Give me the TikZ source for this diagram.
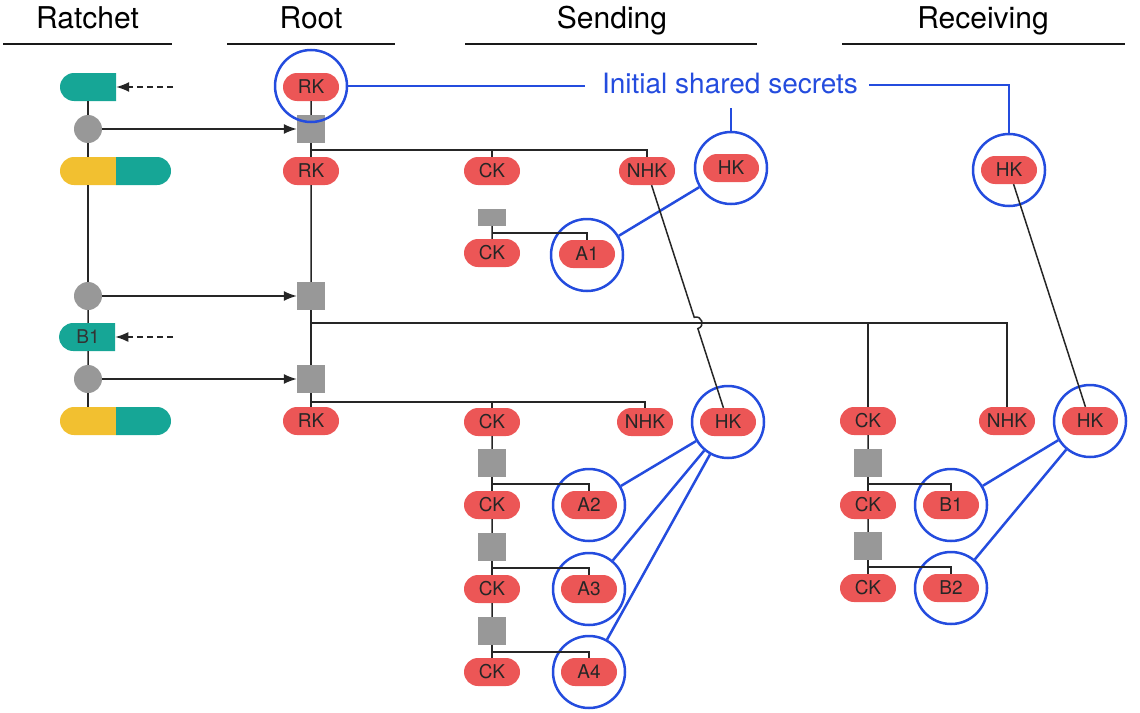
\documentclass[tikz,border=0pt]{standalone}
\usepackage{fontspec}
\setmainfont{TeX Gyre Heros}
\usetikzlibrary{shapes.misc,arrows.meta,calc}
\definecolor{pillred}{RGB}{236,86,86}
\definecolor{tealc}{RGB}{22,166,150}
\definecolor{yellowc}{RGB}{242,192,48}
\definecolor{kgray}{RGB}{152,152,152}
\definecolor{ringblue}{RGB}{36,76,222}
\begin{document}
\begin{tikzpicture}[x=1pt,y=-1pt,
  pill/.style={rounded rectangle, fill=pillred, minimum width=56pt, minimum height=28pt, inner sep=0pt, font=\fontsize{19}{20}\selectfont, text=black!85},
  tealhalf/.style={rounded rectangle, rounded rectangle right arc=none, fill=tealc, minimum width=56pt, minimum height=28pt, inner sep=0pt, font=\fontsize{19}{20}\selectfont, text=black!80},
  yelhalf/.style={rounded rectangle, rounded rectangle right arc=none, fill=yellowc, minimum width=56pt, minimum height=28pt, inner sep=0pt},
  tealright/.style={rounded rectangle, rounded rectangle left arc=none, fill=tealc, minimum width=55pt, minimum height=28pt, inner sep=0pt},
  ring/.style={circle, draw=ringblue, line width=2.5pt, minimum size=72pt, inner sep=0pt},
  bline/.style={draw=ringblue, line width=2.5pt},
  kline/.style={draw=black!85, line width=1.5pt},
  dotc/.style={circle, fill=kgray, minimum size=28pt, inner sep=0pt},
  sqbox/.style={rectangle, fill=kgray, minimum width=28pt, minimum height=28pt, inner sep=0pt},
  arr/.style={kline, -{Latex[length=13pt,width=10pt]}},
  head/.style={anchor=base, font=\fontsize{30}{32}\selectfont, text=black},
  hline/.style={line width=2.5pt, draw=black!90}
]
\useasboundingbox (0,0) rectangle (1140,712);

% headers
\node[head] (hRatchet) at (87.5,28) {Ratchet};
\node[head] (hRoot) at (311,28) {Root};
\node[head] (hSending) at (612,28) {Sending};
\node[head] (hReceiving) at (983,28) {Receiving};
\draw[hline] (3,44) -- (172,44);
\draw[hline] (227,44) -- (395,44);
\draw[hline] (465,44) -- (757,44);
\draw[hline] (842,44) -- (1125,44);

% ratchet column
\node[tealhalf] (t1) at (88,87) {};
\node[dotc] (d1) at (88,129) {};
\node[yelhalf] (y1) at (88,171) {};
\node[tealright] (tr1) at (143.5,171) {};
\node[dotc] (d2) at (88,296) {};
\node[tealhalf] (b1) at (88,337) {B1};
\node[dotc] (d3) at (88,379) {};
\node[yelhalf] (y2) at (88,421) {};
\node[tealright] (tr2) at (143.5,421) {};
\coordinate (da1) at (173,87);
\coordinate (da2) at (173,337);

% root column
\node[pill] (rk1) at (311,87) {RK};
\node[sqbox] (s1) at (311,129) {};
\node[pill] (rk2) at (311,171) {RK};
\node[sqbox] (s2) at (311,296) {};
\node[sqbox] (s3) at (311,379) {};
\node[pill] (rk3) at (311,421) {RK};

% sending top
\node[pill] (ck1) at (492,171) {CK};
\node[pill] (nhk1) at (647,171) {NHK};
\node[pill] (hk1) at (731,168) {HK};
\node[rectangle, fill=kgray, minimum width=28pt, minimum height=17pt, inner sep=0pt] (sm) at (492,217.5) {};
\node[pill] (ck2) at (492,253) {CK};
\node[pill] (a1) at (587,254) {A1};

% receiving top
\node[pill] (hkr1) at (1009,170) {HK};

% sending lower
\node[pill] (ck3) at (492,422) {CK};
\node[pill] (nhk2) at (645,422) {NHK};
\node[pill] (hk2) at (728,422) {HK};
\node[sqbox] (s4) at (492,463) {};
\node[pill] (ck4) at (492,505) {CK};
\node[pill] (a2) at (589,505) {A2};
\node[sqbox] (s5) at (492,547) {};
\node[pill] (ck5) at (492,589) {CK};
\node[pill] (a3) at (589,589) {A3};
\node[sqbox] (s6) at (492,631) {};
\node[pill] (ck6) at (492,672) {CK};
\node[pill] (a4) at (589,672) {A4};

% receiving lower
\node[pill] (ckr1) at (868,421) {CK};
\node[pill] (nhkr) at (1007,421) {NHK};
\node[pill] (hkr2) at (1090,421) {HK};
\node[sqbox] (s7) at (868,463) {};
\node[pill] (ckr2) at (868,505) {CK};
\node[pill] (rb1) at (951,505) {B1};
\node[sqbox] (s8) at (868,546) {};
\node[pill] (ckr3) at (868,588) {CK};
\node[pill] (rb2) at (951,588) {B2};

% rings
\node[ring] (cRK) at (311,86) {};
\node[ring] (cHK1) at (731,168) {};
\node[ring] (cA1) at (587,255) {};
\node[ring] (cHKR1) at (1009,170) {};
\node[ring] (cHK2) at (728,422) {};
\node[ring] (cA2) at (589,505) {};
\node[ring] (cA3) at (589,589) {};
\node[ring] (cA4) at (589,672) {};
\node[ring] (cHKR2) at (1090,421) {};
\node[ring] (cB1) at (951,505) {};
\node[ring] (cB2) at (951,588) {};

% label
\node[anchor=base, font=\fontsize{28}{30}\selectfont, text=ringblue, inner sep=0pt] (lbl) at (730,93) {Initial shared secrets};
\coordinate (lL) at (585,86);
\coordinate (lR) at (869,85);
\coordinate (lD) at (731,108);
\draw[bline] (cRK) -- (lL);
\draw[bline] (lR) -| (cHKR1.north);
\draw[bline] (lD) -- (cHK1.north);
\draw[bline] (cHK1) -- (cA1);
\draw[bline] (cHK2) -- (cA2);
\draw[bline] (cHK2) -- (cA3);
\draw[bline] (cHK2) -- (cA4);
\draw[bline] (cHKR2) -- (cB1);
\draw[bline] (cHKR2) -- (cB2);

% ratchet connectors
\draw[kline] (t1) -- (d1);
\draw[kline] (d1) -- (y1);
\draw[kline] (y1) -- (d2);
\draw[kline] (d2) -- (b1);
\draw[kline] (b1) -- (d3);
\draw[kline] (d3) -- (y2);
\draw[arr, dash pattern=on 6pt off 4pt] (da1) -- (t1);
\draw[arr, dash pattern=on 6pt off 4pt] (da2) -- (b1);
\draw[arr] (d1) -- (s1);
\draw[arr] (d2) -- (s2);
\draw[arr] (d3) -- (s3);

% root connectors
\draw[kline] (rk1) -- (s1);
\draw[kline] (s1) -- (rk2);
\draw[kline] (rk2) -- (s2);
\draw[kline] (s2) -- (s3);
\draw[kline] (s3) -- (rk3);
\coordinate (j1) at (311,150);
\coordinate (j2) at (311,323);
\coordinate (j3) at (311,402);
\draw[kline] (j1) -| (nhk1.north);
\draw[kline] (ck1.north) -- (ck1.north |- j1);
\draw[kline] (j2) -| (nhkr.north);
\draw[kline] (ckr1.north) -- (ckr1.north |- j2);
\draw[kline] (j3) -| (nhk2.north);
\draw[kline] (ck3.north) -- (ck3.north |- j3);

% sending chains
\draw[kline] (sm) -- (ck2);
\coordinate (j4) at (492,233);
\draw[kline] (j4) -| (a1.north);
\draw[kline] (ck3) -- (s4);
\draw[kline] (s4) -- (ck4);
\draw[kline] (ck4) -- (s5);
\draw[kline] (s5) -- (ck5);
\draw[kline] (ck5) -- (s6);
\draw[kline] (s6) -- (ck6);
\coordinate (j5) at (492,484);
\coordinate (j6) at (492,568);
\coordinate (j7) at (492,652);
\draw[kline] (j5) -| (a2.north);
\draw[kline] (j6) -| (a3.north);
\draw[kline] (j7) -| (a4.north);

% receiving chains
\draw[kline] (ckr1) -- (s7);
\draw[kline] (s7) -- (ckr2);
\draw[kline] (ckr2) -- (s8);
\draw[kline] (s8) -- (ckr3);
\coordinate (j8) at (868,484);
\coordinate (j9) at (868,567);
\draw[kline] (j8) -| (rb1.north);
\draw[kline] (j9) -| (rb2.north);

% header-key lines
\coordinate (hA) at ($(nhk1)!0.583!(hk2)$);
\coordinate (hB) at ($(nhk1)!0.628!(hk2)$);
\draw[kline] (nhk1) -- (hA) .. controls ($(hA)!8pt!90:(hB)$) and ($(hB)!8pt!-90:(hA)$) .. (hB) -- (hk2);
\draw[kline] (hkr1) -- (hkr2);
\end{tikzpicture}
\end{document}
